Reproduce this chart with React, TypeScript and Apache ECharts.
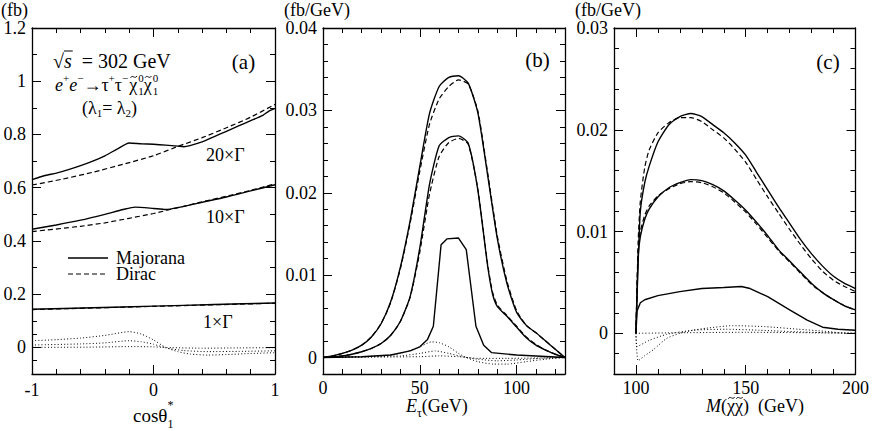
import React, { useEffect, useRef } from 'react';
import * as echarts from 'echarts';

const W = 872;
const H = 431;
const FONT = "'Liberation Serif', 'Times New Roman', Times, serif";

type P = [number, number];

// ---------- panel (a): cos(theta_1*) ----------
const aXMajor = [-1, 0, 1];
const aXMinor = [-0.8, -0.6, -0.4, -0.2, 0.2, 0.4, 0.6, 0.8];
const aYMajor = [0, 0.2, 0.4, 0.6, 0.8, 1, 1.2];
const aYMinor = [-0.05, 0.05, 0.1, 0.3, 0.5, 0.7, 0.9, 1.1];

const aMaj20: P[] = [[-1, 0.63], [-0.9, 0.645], [-0.8, 0.655], [-0.7, 0.668], [-0.6, 0.683], [-0.5, 0.7], [-0.4, 0.72], [-0.3, 0.745], [-0.2, 0.768], [-0.1, 0.765], [0, 0.763], [0.1, 0.76], [0.2, 0.756], [0.25, 0.754], [0.3, 0.758], [0.4, 0.772], [0.5, 0.792], [0.6, 0.812], [0.7, 0.832], [0.8, 0.852], [0.9, 0.872], [0.95, 0.888], [1, 0.898]];
const aDir20: P[] = [[-1, 0.61], [-0.75, 0.632], [-0.5, 0.658], [-0.25, 0.688], [0, 0.72], [0.2, 0.755], [0.4, 0.788], [0.6, 0.825], [0.8, 0.865], [1, 0.913]];
const aMaj10: P[] = [[-1, 0.444], [-0.8, 0.46], [-0.6, 0.478], [-0.4, 0.5], [-0.25, 0.518], [-0.15, 0.527], [0, 0.522], [0.1, 0.518], [0.2, 0.525], [0.4, 0.545], [0.6, 0.565], [0.8, 0.588], [1, 0.611]];
const aDir10: P[] = [[-1, 0.435], [-0.6, 0.455], [-0.4, 0.468], [-0.2, 0.485], [0, 0.503], [0.2, 0.525], [0.4, 0.547], [0.6, 0.568], [0.8, 0.59], [1, 0.615]];
const aMaj1: P[] = [[-1, 0.143], [-0.5, 0.149], [0, 0.155], [0.5, 0.161], [1, 0.167]];
const aDir1: P[] = [[-1, 0.142], [0, 0.154], [1, 0.166]];
const aDot1: P[] = [[-1, 0.025], [-0.8, 0.029], [-0.6, 0.035], [-0.4, 0.045], [-0.2, 0.059], [-0.1, 0.05], [0, 0.028], [0.1, 0.0], [0.2, -0.016], [0.3, -0.025], [0.45, -0.029], [0.6, -0.027], [0.8, -0.023], [1, -0.02]];
const aDot2: P[] = [[-1, 0.009], [-0.6, 0.013], [-0.4, 0.017], [-0.2, 0.025], [-0.1, 0.021], [0, 0.012], [0.1, -0.002], [0.25, -0.012], [0.45, -0.016], [0.7, -0.015], [1, -0.013]];
const aDot3: P[] = [[-1, 0.0], [-0.5, 0.001], [-0.2, 0.003], [0, 0.002], [0.15, -0.001], [0.4, -0.003], [0.7, -0.002], [1, -0.001]];

// ---------- panel (b): E_tau ----------
const bXMajor = [0, 50, 100];
const bXMinor = [10, 20, 30, 40, 60, 70, 80, 90, 110, 120];
const bYMajor = [0, 0.01, 0.02, 0.03, 0.04];
const bYMinor = [0.002, 0.004, 0.006, 0.008, 0.012, 0.014, 0.016, 0.018, 0.022, 0.024, 0.026, 0.028, 0.032, 0.034, 0.036, 0.038];

const bMaj20: P[] = [[0, 0], [5, 0.0002], [10, 0.0005], [15, 0.0009], [20, 0.0015], [25, 0.0025], [30, 0.0041], [35, 0.0068], [40, 0.011], [45, 0.0166], [50, 0.0232], [55, 0.0296], [60, 0.0329], [65, 0.034], [70, 0.0342], [75, 0.0333], [80, 0.0297], [85, 0.0222], [90, 0.0145], [95, 0.009], [100, 0.0055], [105, 0.0039], [110, 0.003], [115, 0.002], [120, 0.001], [125, 0]];
const bDir20: P[] = [[0, 0], [5, 0.0002], [10, 0.0005], [15, 0.0009], [20, 0.0015], [25, 0.0025], [30, 0.0041], [35, 0.0067], [40, 0.0108], [45, 0.0163], [50, 0.0226], [55, 0.0283], [60, 0.0314], [65, 0.0329], [70, 0.0337], [75, 0.0332], [80, 0.0299], [85, 0.0225], [90, 0.0148], [95, 0.0093], [100, 0.0057], [105, 0.0039], [110, 0.003], [115, 0.002], [120, 0.001], [125, 0]];
const bMaj10: P[] = [[0, 0], [5, 0.0001], [10, 0.0002], [15, 0.0004], [20, 0.0007], [25, 0.0011], [30, 0.0017], [35, 0.0027], [40, 0.0044], [45, 0.0074], [50, 0.0133], [55, 0.021], [60, 0.0257], [65, 0.0267], [70, 0.0269], [75, 0.026], [80, 0.0203], [85, 0.0112], [87.5, 0.0078], [90, 0.0062], [95, 0.005], [100, 0.0037], [105, 0.0024], [110, 0.0015], [115, 0.0009], [120, 0.0004], [125, 0]];
const bDir10: P[] = [[0, 0], [5, 0.0001], [10, 0.0002], [15, 0.0004], [20, 0.0007], [25, 0.0011], [30, 0.0017], [35, 0.0027], [40, 0.0044], [45, 0.0073], [50, 0.0128], [55, 0.0198], [60, 0.0244], [65, 0.0261], [70, 0.0266], [75, 0.0259], [80, 0.0204], [85, 0.0114], [87.5, 0.008], [90, 0.0064], [95, 0.0051], [100, 0.0038], [105, 0.0025], [110, 0.0016], [115, 0.0009], [120, 0.0004], [125, 0]];
const bMaj1: P[] = [[0, 0], [20, 0.0001], [35, 0.0003], [45, 0.0008], [50, 0.0013], [54, 0.0022], [57, 0.0038], [61, 0.0137], [64, 0.0144], [70, 0.0145], [74, 0.0131], [79, 0.0038], [83, 0.0015], [87, 0.0006], [100, 0.0003], [125, 0]];
const bDot1: P[] = [[0, 0], [30, 0.0002], [40, 0.0005], [50, 0.0013], [56, 0.0019], [60, 0.0018], [65, 0.0013], [70, 0.0005], [74, 0], [80, -0.0005], [88, -0.0008], [95, -0.0008], [105, -0.0005], [115, -0.0002], [125, 0]];
const bDot2: P[] = [[0, 0], [40, 0.0002], [50, 0.0005], [58, 0.0008], [65, 0.0005], [72, 0.0001], [80, -0.0002], [90, -0.0004], [100, -0.0003], [112, -0.0001], [125, 0]];
const bDot3: P[] = [[0, 0], [50, 0.0001], [60, 0.0002], [70, 0.0001], [80, -0.0001], [95, -0.0001], [125, 0]];

// ---------- panel (c): M(chi chi) ----------
const cXMajor = [100, 150, 200];
const cXMinor = [110, 120, 130, 140, 160, 170, 180, 190];
const cYMajor = [0, 0.01, 0.02, 0.03];
const cYMinor = [-0.002, 0.002, 0.004, 0.006, 0.008, 0.012, 0.014, 0.016, 0.018, 0.022, 0.024, 0.026, 0.028];

const cMaj20: P[] = [[100, 0], [101, 0.007], [102, 0.012], [104, 0.0148], [106, 0.0164], [110, 0.0188], [115, 0.0205], [120, 0.0213], [125, 0.0216], [130, 0.0213], [135, 0.0205], [140, 0.0197], [145, 0.0187], [150, 0.0175], [155, 0.0158], [160, 0.0141], [165, 0.0124], [170, 0.0108], [175, 0.0092], [180, 0.0078], [185, 0.0066], [190, 0.0056], [195, 0.0049], [200, 0.0044]];
const cDir20: P[] = [[100, 0], [101, 0.009], [102, 0.013], [104, 0.0163], [106, 0.018], [110, 0.0197], [115, 0.0207], [120, 0.0212], [125, 0.0212], [130, 0.0208], [135, 0.02], [140, 0.0192], [145, 0.0181], [150, 0.0168], [155, 0.0151], [160, 0.0134], [165, 0.0118], [170, 0.0102], [175, 0.0087], [180, 0.0073], [185, 0.0061], [190, 0.0052], [195, 0.0046], [200, 0.0041]];
const cMaj10: P[] = [[100, 0], [101, 0.0075], [102, 0.0095], [104, 0.0112], [106, 0.0122], [110, 0.0134], [115, 0.0143], [120, 0.0148], [125, 0.0151], [130, 0.015], [135, 0.0146], [140, 0.014], [145, 0.0131], [150, 0.0121], [155, 0.0109], [160, 0.0096], [165, 0.0082], [170, 0.0071], [175, 0.006], [180, 0.0049], [185, 0.004], [190, 0.0033], [195, 0.0027], [200, 0.0023]];
const cDir10: P[] = [[100, 0], [101, 0.008], [102, 0.01], [104, 0.0116], [106, 0.0125], [110, 0.0135], [115, 0.0142], [120, 0.0147], [125, 0.0149], [130, 0.0148], [135, 0.0144], [140, 0.0138], [145, 0.0129], [150, 0.0119], [155, 0.0107], [160, 0.0094], [165, 0.0081], [170, 0.007], [175, 0.0059], [180, 0.0048], [185, 0.004], [190, 0.0033], [195, 0.0027], [200, 0.0023]];
const cMaj1: P[] = [[100, 0], [100.5, 0.0022], [102, 0.003], [104, 0.0033], [110, 0.0037], [120, 0.0041], [130, 0.0044], [140, 0.0045], [148, 0.0046], [152, 0.0044], [160, 0.0036], [170, 0.0023], [178, 0.0013], [185, 0.0006], [192, 0.0004], [200, 0.0003]];
const cDot1: P[] = [[100, 0], [101, -0.0027], [104, -0.0022], [108, -0.0016], [114, -0.0005], [120, 0], [126, 0.0003], [132, 0.0005], [144, 0.00075], [159, 0.00065], [174, 0.0004], [186, 0.0002], [197, 0], [200, 0]];
const cDot2: P[] = [[100, 0], [100.5, -0.0013], [106, -0.0007], [114, -0.0001], [126, 0.0003], [141, 0.0004], [156, 0.0003], [179, 0.0001], [200, 0]];
const cDot3: P[] = [[100, 0], [120, 0.00005], [150, 0.0001], [180, 0.00005], [200, 0]];

// legend entries
const legendNames = ['Majorana', 'Dirac'];

const BLACK = '#000';

let measureCtx: CanvasRenderingContext2D | null = null;
function measure(text: string, font: string): number {
  if (!measureCtx) measureCtx = document.createElement('canvas').getContext('2d');
  if (!measureCtx) return text.length * 8;
  measureCtx.font = font;
  return measureCtx.measureText(text).width;
}

type Part = { t: string; size?: number; italic?: boolean; dy?: number; adv?: boolean; over?: boolean; tilde?: number; gap?: number };

function textEl(x: number, y: number, text: string, size: number, align = 'left', italic = false, lineHeight?: number) {
  return {
    type: 'text',
    x,
    y,
    silent: true,
    style: {
      text,
      fontSize: size,
      fontFamily: FONT,
      fontStyle: italic ? 'italic' : 'normal',
      lineHeight: lineHeight ?? size,
      fill: BLACK,
      textAlign: align,
      align,
      textVerticalAlign: 'middle',
      verticalAlign: 'middle',
    },
  };
}

function tildeMark(cx: number, cy: number, tw: number) {
  const h = tw * 0.28;
  return {
    type: 'bezierCurve',
    silent: true,
    shape: {
      x1: cx - tw / 2,
      y1: cy + h * 0.5,
      cpx1: cx - tw / 6,
      cpy1: cy - h * 1.6,
      cpx2: cx + tw / 6,
      cpy2: cy + h * 1.6,
      x2: cx + tw / 2,
      y2: cy - h * 0.5,
    },
    style: { stroke: BLACK, lineWidth: 0.9, fill: null },
  };
}

// lays out text pieces left to right; `tilde: n` puts a tilde over each of the first n characters
function parts(x0: number, y: number, base: number, list: Part[]): any[] {
  const els: any[] = [];
  let x = x0;
  for (const p of list) {
    const size = p.size ?? base;
    const font = `${p.italic ? 'italic ' : ''}${size}px ${FONT}`;
    const w = measure(p.t, font);
    const lh = size < 14 ? size * 0.8 : size * 0.85;
    els.push(textEl(x, y + (p.dy ?? 0), p.t, size, 'left', !!p.italic, lh));
    if (p.over) {
      const oy = y - size * 0.5;
      els.push({ type: 'line', silent: true, shape: { x1: x, y1: oy, x2: x + w + 1, y2: oy }, style: { stroke: BLACK, lineWidth: 1 } });
    }
    if (p.tilde) {
      let cx = x;
      for (let i = 0; i < p.tilde; i++) {
        const cw = measure(p.t[i], font);
        els.push(tildeMark(cx + cw / 2 + 0.5, y - size * 0.45, cw * 0.8));
        cx += cw;
      }
    }
    if (p.adv !== false) x += w + (p.gap ?? 0);
  }
  return els;
}

function fmt(v: number) {
  return String(+Number(v).toFixed(4));
}

const axisLine = { color: BLACK, width: 1.3 };

function makeAxes(dim: 'x' | 'y', gi: number, min: number, max: number, major: number[], minor: number[], margin: number) {
  const pos = dim === 'x' ? ['bottom', 'top'] : ['left', 'right'];
  const out: any[] = [];
  pos.forEach((position, pi) => {
    [true, false].forEach((isMajor) => {
      out.push({
        type: 'value',
        gridIndex: gi,
        position,
        min,
        max,
        axisLine: { show: isMajor, onZero: false, lineStyle: axisLine },
        axisTick: {
          show: true,
          inside: true,
          length: isMajor ? 9 : 5,
          customValues: isMajor ? major : minor,
          lineStyle: { color: BLACK, width: 1 },
        },
        axisLabel: {
          show: isMajor && pi === 0,
          customValues: major,
          margin,
          color: BLACK,
          fontSize: 18,
          lineHeight: 16,
          fontFamily: FONT,
          formatter: fmt,
        },
        splitLine: { show: false },
        axisPointer: { show: false },
      });
    });
  });
  return out;
}

const STYLES: Record<string, any> = {
  solid: { color: BLACK, width: 1.4, type: 'solid' },
  dashed: { color: BLACK, width: 1.2, type: [5, 3] },
  dotted: { color: BLACK, width: 1, type: [1, 2.2] },
};

function line(name: string, data: P[], gi: number, kind: 'solid' | 'dashed' | 'dotted', smooth: number | boolean = 0.2) {
  return {
    type: 'line',
    name,
    data,
    xAxisIndex: gi * 4,
    yAxisIndex: gi * 4,
    symbol: 'none',
    showSymbol: false,
    smooth,
    lineStyle: STYLES[kind],
    itemStyle: { color: BLACK },
    silent: true,
    z: kind === 'solid' ? 3 : 2,
  };
}

export default function App() {
  const ref = useRef<HTMLDivElement>(null);
  useEffect(() => {
    if (!ref.current) return;
    const chart = echarts.init(ref.current, undefined, { renderer: 'svg', width: W, height: H });

    const grid = [
      { left: 32, top: 28, width: 243, height: 346 },
      { left: 323, top: 28, width: 242, height: 346 },
      { left: 614, top: 28, width: 242, height: 346 },
    ];

    const xAxis = [
      ...makeAxes('x', 0, -1, 1, aXMajor, aXMinor, 8),
      ...makeAxes('x', 1, 0, 125, bXMajor, bXMinor, 6),
      ...makeAxes('x', 2, 90, 200, cXMajor, cXMinor, 6),
    ];
    const yAxis = [
      ...makeAxes('y', 0, -0.1, 1.2, aYMajor, aYMinor, 6),
      ...makeAxes('y', 1, -0.002, 0.04, bYMajor, bYMinor, 6),
      ...makeAxes('y', 2, -0.004, 0.03, cYMajor, cYMinor, 6),
    ];

    const series = [
      line(legendNames[0], aMaj20, 0, 'solid'),
      line(legendNames[1], aDir20, 0, 'dashed'),
      line('a-maj-10', aMaj10, 0, 'solid'),
      line('a-dir-10', aDir10, 0, 'dashed'),
      line('a-dir-1', aDir1, 0, 'dashed'),
      line('a-maj-1', aMaj1, 0, 'solid'),
      line('a-dot-1', aDot1, 0, 'dotted'),
      line('a-dot-2', aDot2, 0, 'dotted'),
      line('a-dot-3', aDot3, 0, 'dotted'),

      line('b-maj-20', bMaj20, 1, 'solid'),
      line('b-dir-20', bDir20, 1, 'dashed'),
      line('b-maj-10', bMaj10, 1, 'solid'),
      line('b-dir-10', bDir10, 1, 'dashed'),
      line('b-maj-1', bMaj1, 1, 'solid', false),
      line('b-dot-1', bDot1, 1, 'dotted'),
      line('b-dot-2', bDot2, 1, 'dotted'),
      line('b-dot-3', bDot3, 1, 'dotted'),

      line('c-maj-20', cMaj20, 2, 'solid'),
      line('c-dir-20', cDir20, 2, 'dashed'),
      line('c-maj-10', cMaj10, 2, 'solid'),
      line('c-dir-10', cDir10, 2, 'dashed'),
      line('c-maj-1', cMaj1, 2, 'solid', false),
      line('c-dot-1', cDot1, 2, 'dotted'),
      line('c-dot-2', cDot2, 2, 'dotted'),
      line('c-dot-3', cDot3, 2, 'dotted'),
    ];

    const chi = 'χ';
    const graphic: any[] = [
      // unit labels
      textEl(1, 9.5, '(fb)', 18, 'left', false, 15),
      textEl(284, 9.5, '(fb/GeV)', 18, 'left', false, 15),
      textEl(575, 9.5, '(fb/GeV)', 18, 'left', false, 15),
      // panel tags
      textEl(243.5, 62, '(a)', 21, 'center'),
      textEl(537.5, 60, '(b)', 21, 'center'),
      textEl(828, 62, '(c)', 21, 'center'),
      // curve labels in (a)
      textEl(206, 155, '20×Γ', 18),
      textEl(206, 217, '10×Γ', 18),
      textEl(203, 322, '1×Γ', 18),
      // legend (a)
      { type: 'line', silent: true, shape: { x1: 68, y1: 258, x2: 108, y2: 258 }, style: { stroke: BLACK, lineWidth: STYLES.solid.width } },
      { type: 'line', silent: true, shape: { x1: 68, y1: 274, x2: 108, y2: 274 }, style: { stroke: BLACK, lineWidth: STYLES.dashed.width, lineDash: STYLES.dashed.type } },
      textEl(116, 266, legendNames.join('\n'), 18, 'left', false, 16),
      // process info
      ...parts(53, 61, 20, [
        { t: '√' },
        { t: 's', italic: true, over: true },
        { t: '  = 302 GeV' },
      ]),
      ...parts(55, 85, 18, [
        { t: 'e', italic: true },
        { t: '+', size: 11, dy: -7 },
        { t: 'e', italic: true },
        { t: '−', size: 11, dy: -7 },
        { t: '→τ' },
        { t: '+', size: 11, dy: -7 },
        { t: 'τ' },
        { t: '−', size: 11, dy: -7, gap: 1 },
        { t: chi, tilde: 1, gap: 1 },
        { t: '0', size: 11, dy: -7, adv: false },
        { t: '1', size: 11, dy: 6 },
        { t: chi, tilde: 1, gap: 1 },
        { t: '0', size: 11, dy: -7, adv: false },
        { t: '1', size: 11, dy: 6 },
      ]),
      ...parts(82, 108, 18, [
        { t: '(λ' },
        { t: '1', size: 11, dy: 5 },
        { t: '= λ' },
        { t: '2', size: 11, dy: 5 },
        { t: ')' },
      ]),
      // axis titles
      ...parts(133, 415, 19, [
        { t: 'cosθ' },
        { t: '*', size: 12, dy: -10, adv: false },
        { t: '1', size: 12, dy: 9 },
      ]),
      ...parts(406, 406, 18, [
        { t: 'E', italic: true },
        { t: 'τ', size: 12, dy: 7 },
        { t: '(GeV)' },
      ]),
      ...parts(706, 406, 18, [
        { t: 'M', italic: true },
        { t: '(' },
        { t: `${chi}${chi}`, tilde: 2 },
        { t: ')  (GeV)' },
      ]),
    ];

    chart.setOption({
      animation: false,
      backgroundColor: '#fff',
      textStyle: { fontFamily: FONT, color: BLACK },
      grid,
      xAxis,
      yAxis,
      series,
      graphic,
    });
    return () => chart.dispose();
  }, []);
  return <div ref={ref} style={{ position: 'fixed', left: 0, top: 0, width: W, height: H, background: '#fff' }} />;
}
